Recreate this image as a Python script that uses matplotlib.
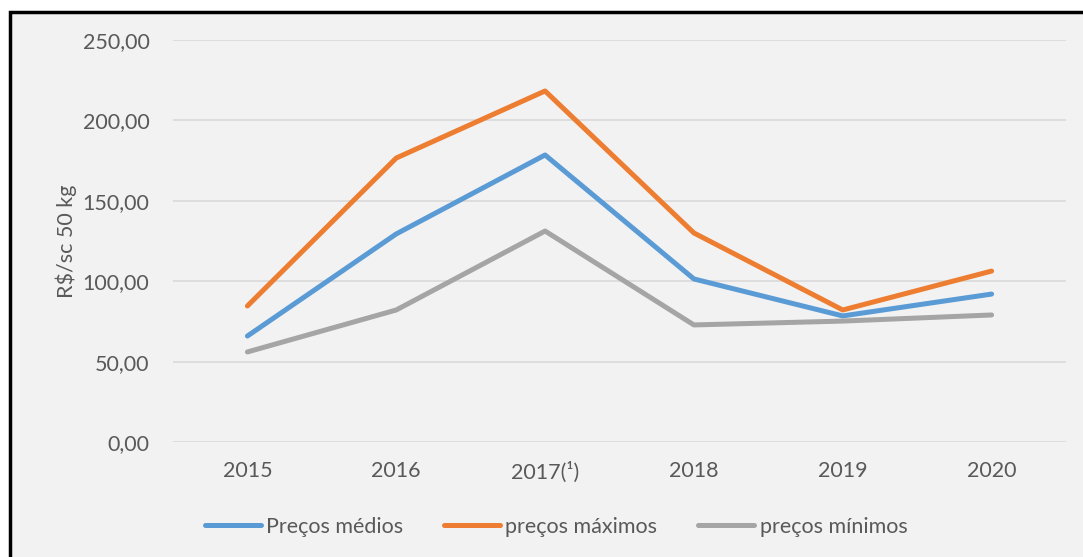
import matplotlib.pyplot as plt
from matplotlib.patches import Rectangle
from matplotlib.ticker import FuncFormatter

plt.rcParams['font.family'] = ['Lato', 'DejaVu Sans']

anos = ['2015', '2016', '2017(¹)', '2018', '2019', '2020']
medios = [65.9, 129.4, 178.5, 101.4, 78.4, 92.0]
maximos = [84.6, 176.6, 218.3, 130.0, 82.1, 106.3]
minimos = [56.0, 82.1, 131.2, 72.8, 75.2, 79.0]

bg = '#f2f2f2'
txt = '#595959'

fig = plt.figure(figsize=(10.83, 5.57), dpi=100)
fig.patch.set_facecolor('white')
fig.patches.append(Rectangle((10 / 1083, -0.1), 1.2, (557 - 12) / 557 + 0.1,
                             transform=fig.transFigure, facecolor=bg,
                             edgecolor='black', linewidth=2.5, zorder=-1))

ax = fig.add_axes([173 / 1083, (557 - 442) / 557, (1066 - 173) / 1083, (442 - 40) / 557])
ax.set_facecolor(bg)

x = range(len(anos))
ax.plot(x, medios, color='#5b9bd5', lw=3.6, solid_capstyle='round', label='Preços médios')
ax.plot(x, maximos, color='#ed7d31', lw=3.6, solid_capstyle='round', label='preços máximos')
ax.plot(x, minimos, color='#a5a5a5', lw=3.6, solid_capstyle='round', label='preços mínimos')

ax.set_xlim(-0.5, 5.5)
ax.set_ylim(0, 250)
ax.set_yticks(range(0, 251, 50))
ax.yaxis.set_major_formatter(FuncFormatter(lambda v, p: f'{v:.2f}'.replace('.', ',')))
ax.set_xticks(list(x))
ax.set_xticklabels(anos)
ax.grid(axis='y', color='#d9d9d9', lw=1.2)
ax.set_axisbelow(True)
for s in ax.spines.values():
    s.set_visible(False)
ax.tick_params(length=0, labelsize=15.5, labelcolor=txt, pad=14)
ax.tick_params(axis='y', pad=17)
ax.set_ylabel('R$/sc 50 kg', fontsize=15.5, color=txt, labelpad=4)

fig.legend(*ax.get_legend_handles_labels(), loc='center',
           bbox_to_anchor=(556 / 1083, (557 - 527) / 557), ncol=3, frameon=False,
           fontsize=15.5, labelcolor=txt, handlelength=2.6, handletextpad=0.25,
           columnspacing=1.9)

fig.savefig('out.png', dpi=100, facecolor=fig.get_facecolor())
